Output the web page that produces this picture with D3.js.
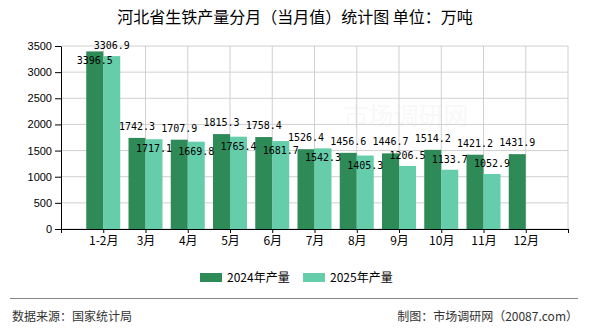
<!DOCTYPE html>
<html>
<head>
<meta charset="utf-8">
<script src="https://cdn.jsdelivr.net/npm/d3@7"></script>
<style>
  body { margin: 0; background: #fff; }
  text { font-family: "Noto Sans CJK SC", "Liberation Sans", sans-serif; }
</style>
</head>
<body>
<div id="my_chart"></div>
<script>
// data
var categories = ["1-2月", "3月", "4月", "5月", "6月", "7月", "8月", "9月", "10月", "11月", "12月"];
var values2024 = [3396.5, 1742.3, 1707.9, 1815.3, 1758.4, 1526.4, 1456.6, 1446.7, 1514.2, 1421.2, 1431.9];
var values2025 = [3306.9, 1717.1, 1669.8, 1765.4, 1681.7, 1542.3, 1405.3, 1206.5, 1133.7, 1052.9, null];
var seriesNames = ["2024年产量", "2025年产量"];
var yTicks = [0, 500, 1000, 1500, 2000, 2500, 3000, 3500];

var colors = ["#2e8b57", "#66cdaa"];
var width = 590, height = 330;
var plot = {left: 61, right: 568, top: 46, bottom: 229};
var barW = 17;

var svg = d3.select("#my_chart")
  .append("svg")
    .attr("width", width)
    .attr("height", height);

// title
svg.append("text")
  .attr("x", 295)
  .attr("y", 23)
  .attr("text-anchor", "middle")
  .style("font-size", "16px")
  .text("河北省生铁产量分月（当月值）统计图 单位：万吨");

// scales: category i sits at position i, the axis is at -1
var x = d3.scaleLinear()
  .domain([-1, 11])
  .range([plot.left, plot.right]);
var y = d3.scaleLinear()
  .domain([0, 3500])
  .range([plot.bottom, plot.top]);

// watermark
svg.append("text")
  .attr("x", 406).attr("y", 125)
  .attr("text-anchor", "middle")
  .style("font-size", "25px")
  .attr("fill", "#000").attr("opacity", 0.025)
  .text("市场调研网");

// grid
svg.append("g").selectAll("line.h")
  .data(yTicks).enter().append("line")
    .attr("x1", plot.left).attr("x2", plot.right)
    .attr("y1", function(d) { return y(d); })
    .attr("y2", function(d) { return y(d); })
    .attr("stroke", "#d0d0d0");
svg.append("g").selectAll("line.v")
  .data(d3.range(0, 12)).enter().append("line")
    .attr("x1", function(d) { return x(d); })
    .attr("x2", function(d) { return x(d); })
    .attr("y1", plot.top).attr("y2", plot.bottom)
    .attr("stroke", "#d0d0d0");

// bars
var bars = svg.append("g");
categories.forEach(function(c, i) {
  bars.append("rect")
    .attr("x", x(i) - barW)
    .attr("y", y(values2024[i]))
    .attr("width", barW)
    .attr("height", y(0) - y(values2024[i]))
    .attr("fill", colors[0]);
  if (values2025[i] != null) {
    bars.append("rect")
      .attr("x", x(i))
      .attr("y", y(values2025[i]))
      .attr("width", barW)
      .attr("height", y(0) - y(values2025[i]))
      .attr("fill", colors[1]);
  }
});

// axes
var yAxis = svg.append("g")
  .attr("transform", "translate(" + plot.left + ",0)")
  .call(d3.axisLeft(y).tickValues(yTicks).tickFormat(d3.format("d")).tickSize(6).tickSizeOuter(0));
yAxis.selectAll("text").style("font-size", "11px").style("font-family", "Liberation Sans");

var xAxis = svg.append("g")
  .attr("transform", "translate(0," + plot.bottom + ")")
  .call(d3.axisBottom(x).tickValues(d3.range(-1, 12)).tickSize(4).tickSizeOuter(0)
    .tickFormat(function(d) { return d < 0 ? "" : (categories[d] || ""); }));
xAxis.selectAll("text").style("font-size", "12px").attr("y", 7);
svg.selectAll(".domain, .tick line").attr("stroke", "#000");

// value labels: 2024 above its bar, 2025 inside unless clear of the 2024 label
var labels = svg.append("g");
function addLabel(px, py, v) {
  labels.append("text")
    .attr("x", px).attr("y", py)
    .attr("text-anchor", "middle")
    .style("font-family", "'DejaVu Sans Mono', 'Liberation Mono', monospace")
    .style("font-size", "10px")
    .text(v.toFixed(1));
}
categories.forEach(function(c, i) {
  var topA = y(values2024[i]);
  var aInside = topA - 18 < plot.top;
  addLabel(x(i) - barW / 2, aInside ? topA + 13 : topA - 8, values2024[i]);
  if (values2025[i] != null) {
    var topB = y(values2025[i]);
    var bInside = !aInside && Math.abs(topA - topB) < 11;
    addLabel(x(i) + barW / 2, bInside ? topB + 13 : topB - 7, values2025[i]);
  }
});

// legend
var legend = svg.append("g");
var legendX = [200, 303];
seriesNames.forEach(function(name, i) {
  legend.append("rect")
    .attr("x", legendX[i]).attr("y", 273)
    .attr("width", 22).attr("height", 9)
    .attr("fill", colors[i]);
  legend.append("text")
    .attr("x", legendX[i] + 27).attr("y", 281.5)
    .style("font-size", "12px")
    .text(name);
});

// footer
svg.append("line")
  .attr("x1", 10).attr("x2", 578)
  .attr("y1", 298.5).attr("y2", 298.5)
  .attr("stroke", "#888");
svg.append("text")
  .attr("x", 12).attr("y", 321)
  .style("font-size", "12px").attr("fill", "#333")
  .text("数据来源：国家统计局");
svg.append("text")
  .attr("x", 578).attr("y", 321)
  .attr("text-anchor", "end")
  .style("font-size", "12px").attr("fill", "#333")
  .text("制图：市场调研网（20087.com）");
</script>
</body>
</html>
